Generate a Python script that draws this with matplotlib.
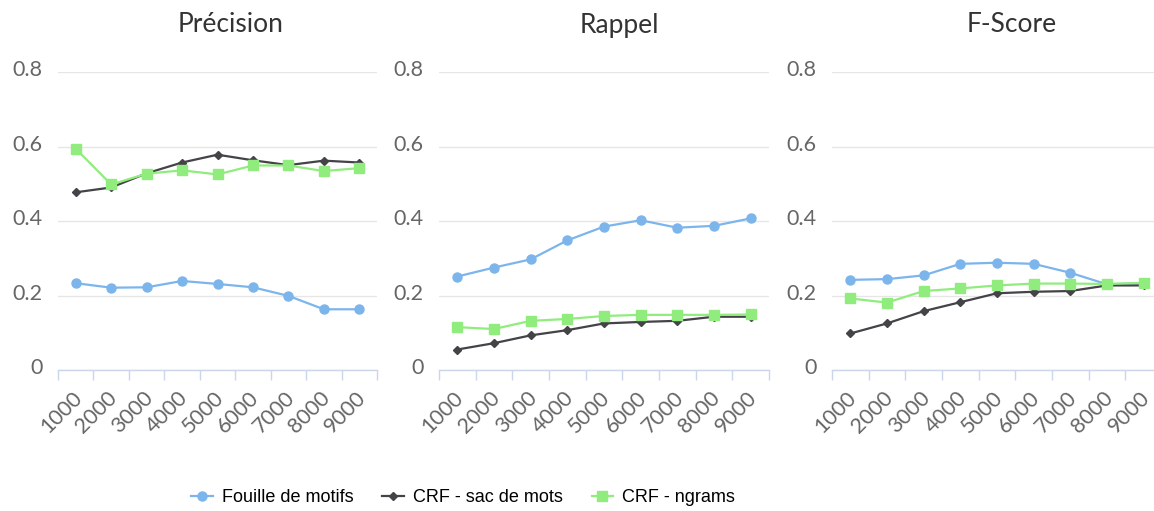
import matplotlib.pyplot as plt
import matplotlib.transforms as mtransforms
import numpy as np

# Données
categories = ['1000', '2000', '3000', '4000', '5000', '6000', '7000', '8000', '9000']
titles = ['Précision', 'Rappel', 'F-Score']
series_names = ['Fouille de motifs', 'CRF - sac de mots', 'CRF - ngrams']

precision_motifs = [0.233, 0.221, 0.222, 0.239, 0.231, 0.222, 0.199, 0.163, 0.163]
precision_sac = [0.477, 0.490, 0.528, 0.557, 0.578, 0.563, 0.550, 0.562, 0.557]
precision_ngrams = [0.594, 0.498, 0.527, 0.536, 0.525, 0.549, 0.549, 0.534, 0.542]

rappel_motifs = [0.251, 0.275, 0.297, 0.348, 0.385, 0.402, 0.382, 0.387, 0.407]
rappel_sac = [0.055, 0.072, 0.093, 0.107, 0.125, 0.129, 0.132, 0.143, 0.143]
rappel_ngrams = [0.115, 0.110, 0.132, 0.137, 0.145, 0.148, 0.148, 0.148, 0.149]

fscore_motifs = [0.242, 0.244, 0.254, 0.285, 0.288, 0.285, 0.261, 0.230, 0.233]
fscore_sac = [0.098, 0.125, 0.158, 0.182, 0.206, 0.210, 0.212, 0.227, 0.227]
fscore_ngrams = [0.192, 0.181, 0.212, 0.219, 0.227, 0.232, 0.232, 0.231, 0.234]

y_ticks = [0, 0.2, 0.4, 0.6, 0.8]
y_tick_labels = ['0', '0.2', '0.4', '0.6', '0.8']

panels = [
    (precision_motifs, precision_sac, precision_ngrams),
    (rappel_motifs, rappel_sac, rappel_ngrams),
    (fscore_motifs, fscore_sac, fscore_ngrams),
]

colors = ['#7cb5ec', '#434348', '#90ed7d']
markers = ['o', 'D', 's']
msizes = [6.5, 4.5, 6.5]

W, H = 1154, 511
fig = plt.figure(figsize=(W / 100, H / 100), dpi=100)

# positions en pixels (gauche, droite) des zones de tracé
x_bounds = [(58, 377), (439, 769), (832, 1162)]
title_x = [231, 619, 1012]
y_top, y_bot = 72, 370

x = np.arange(len(categories))
handles = []
for i, (data, (x0, x1)) in enumerate(zip(panels, x_bounds)):
    ax = fig.add_axes([x0 / W, 1 - y_bot / H, (x1 - x0) / W, (y_bot - y_top) / H])
    for j, vals in enumerate(data):
        h, = ax.plot(x, vals, color=colors[j], marker=markers[j], markersize=msizes[j],
                     linewidth=1.6, label=series_names[j], zorder=3)
        if i == 0:
            handles.append(h)
    ax.set_xlim(-0.5, len(categories) - 0.5)
    ax.set_ylim(0, 0.8)
    ax.set_yticks(y_ticks)
    ax.set_yticklabels(y_tick_labels, fontsize=15.5, color='#666666', family='Lato')
    ax.grid(axis='y', color='#e6e6e6', linewidth=1)
    ax.set_axisbelow(True)
    for s in ['top', 'right', 'left']:
        ax.spines[s].set_visible(False)
    ax.spines['bottom'].set_color('#ccd6eb')
    ax.spines['bottom'].set_linewidth(1)
    ax.tick_params(axis='y', length=0, pad=11)
    ax.set_xticks(x)
    ax.set_xticklabels(categories, rotation=45, ha='right', va='center',
                       rotation_mode='anchor', fontsize=15.5, color='#666666', family='Lato')
    ax.set_xticks(np.arange(-0.5, len(categories)), minor=True)
    ax.tick_params(axis='x', which='major', length=0, pad=18)
    ax.tick_params(axis='x', which='minor', length=7.5, color='#ccd6eb', width=1)
    # petit décalage des étiquettes des axes
    off = mtransforms.ScaledTranslation(0, 4 / 100, fig.dpi_scale_trans)
    for lab in ax.get_yticklabels():
        lab.set_transform(lab.get_transform() + off)
    offx = mtransforms.ScaledTranslation(3 / 100, 0, fig.dpi_scale_trans)
    for lab in ax.get_xticklabels():
        lab.set_transform(lab.get_transform() + offx)
    fig.text(title_x[i] / W, 1 - 25 / H, titles[i], ha='center', va='center',
             fontsize=19, color='#333333', family='Lato')

fig.legend(handles=handles, loc='center', bbox_to_anchor=(463 / W, 1 - 498 / H),
           ncol=3, frameon=False, handlelength=1.2, columnspacing=1.6,
           handletextpad=0.5,
           prop={'family': 'Liberation Sans', 'size': 13})

fig.savefig('out.png', dpi=100)
